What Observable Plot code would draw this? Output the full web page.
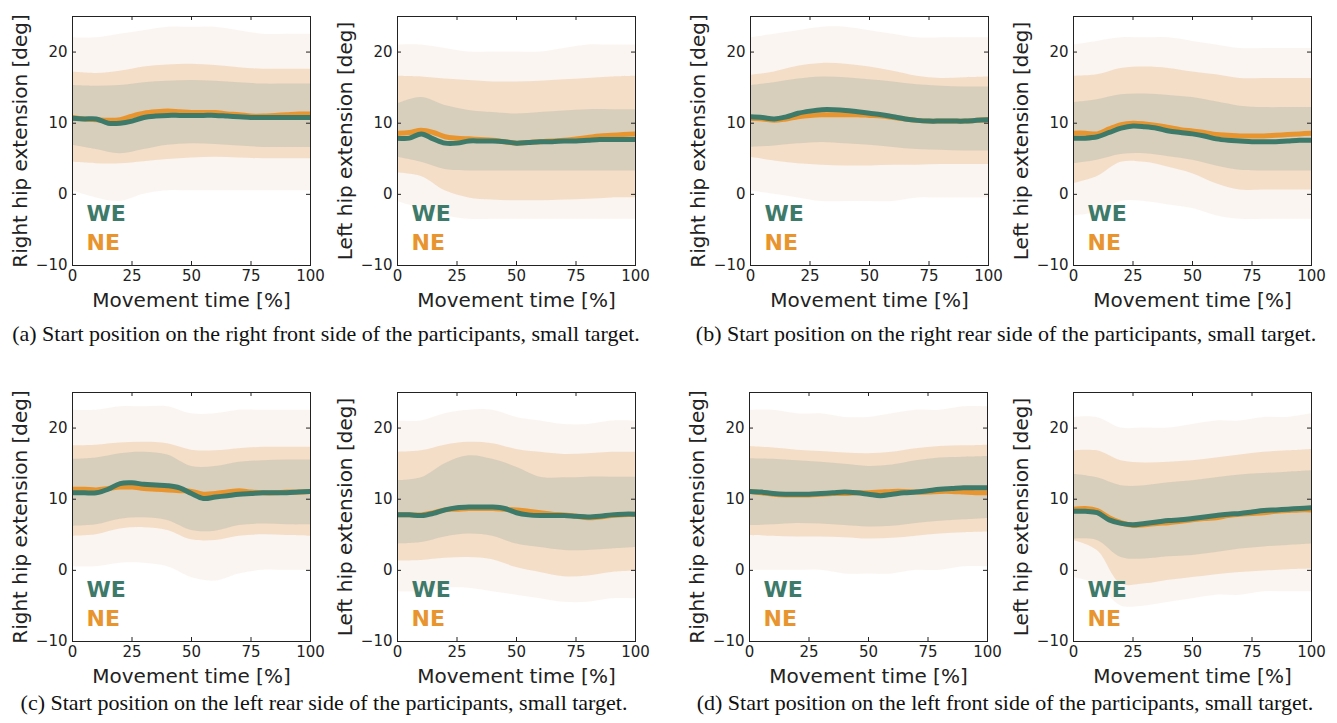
<!DOCTYPE html>
<html><head><meta charset="utf-8">
<script src="https://cdn.jsdelivr.net/npm/d3@7"></script>
<script src="https://cdn.jsdelivr.net/npm/@observablehq/plot@0.6"></script>
<style>
body{margin:0;background:#fff;width:1337px;height:723px;position:relative;overflow:hidden;font-family:"DejaVu Sans",sans-serif;}
.panel{position:absolute;}
.cap{position:absolute;font-family:"Liberation Serif","Times New Roman",serif;font-size:22px;color:#111;white-space:nowrap;transform:translate(-50%,-50%);}
</style></head><body>
<script>
// ---- shared axes ----
const timePct = [0,5,10,15,20,25,30,35,40,45,50,55,60,65,70,75,80,85,90,95,100];
const bandPct = [0,10,20,30,40,50,60,70,80,90,100];
const xTicks = [0,25,50,75,100];
const yTicks = [-10,0,10,20];
const xLabel = "Movement time [%]";
const yLabelRight = "Right hip extension [deg]";
const yLabelLeft = "Left hip extension [deg]";
const groupNames = ["WE","NE"];
const captions = [
  "(a) Start position on the right front side of the participants, small target.",
  "(b) Start position on the right rear side of the participants, small target.",
  "(c) Start position on the left rear side of the participants, small target.",
  "(d) Start position on the left front side of the participants, small target."
];

// ---- (a) right front ----
const aR_WE = [10.7,10.6,10.6,10.0,10.0,10.3,10.8,11.0,11.1,11.1,11.1,11.1,11.1,11.0,10.9,10.8,10.8,10.8,10.8,10.8,10.8];
const aR_NE = [10.8,10.6,10.5,10.4,10.5,11.0,11.4,11.6,11.7,11.6,11.5,11.5,11.5,11.3,11.2,11.0,11.0,11.1,11.2,11.3,11.3];
const aR_NEhi = [17.2,17.0,17.3,17.9,18.2,18.3,18.1,17.8,17.6,17.6,17.6];
const aR_NElo = [4.5,4.3,4.3,4.6,4.9,5.1,5.2,5.1,5.0,5.0,5.0];
const aR_WEhi = [15.3,15.2,15.3,15.7,15.9,16.0,15.9,15.7,15.5,15.5,15.5];
const aR_WElo = [6.9,6.3,5.7,6.3,6.9,7.1,7.0,6.8,6.6,6.6,6.6];
const aR_TRhi = [22,22,22.5,23,23.5,23.5,23.5,23,22.5,22.5,22.5];
const aR_TRlo = [0.5,-0.5,-1,0,0.5,0.5,0.5,0.5,0.5,0.5,0.5];

const aL_WE = [7.9,7.9,8.5,7.8,7.2,7.2,7.5,7.5,7.5,7.4,7.2,7.3,7.4,7.4,7.5,7.5,7.6,7.7,7.7,7.7,7.7];
const aL_NE = [8.6,8.7,9.0,8.7,8.1,7.9,7.8,7.7,7.6,7.4,7.2,7.3,7.4,7.5,7.6,7.8,8.0,8.2,8.3,8.4,8.5];
const aL_NEhi = [16.6,16.5,16.2,16.0,15.8,15.8,15.9,16.1,16.3,16.5,16.6];
const aL_NElo = [3.0,2.5,0.5,-0.5,-0.8,-0.9,-0.9,-0.8,-0.7,-0.5,-0.5];
const aL_WEhi = [12.7,13.6,12.5,11.8,11.5,11.3,11.5,11.7,11.9,11.9,11.9];
const aL_WElo = [5.2,4.5,3.5,3.3,3.3,3.3,3.3,3.3,3.3,3.3,3.3];
const aL_TRhi = [21,21,20.5,20,20,20,20,20.5,21,21,21];
const aL_TRlo = [-1,-2,-3,-3.5,-3.5,-3.5,-3.5,-3.5,-3.5,-3.5,-3.5];

// ---- (b) right rear ----
const bR_WE = [10.9,10.8,10.6,10.9,11.4,11.7,11.9,11.9,11.8,11.6,11.4,11.2,10.9,10.6,10.4,10.3,10.3,10.3,10.3,10.4,10.5];
const bR_NE = [10.7,10.6,10.4,10.6,10.9,11.1,11.2,11.2,11.2,11.2,11.1,11.0,10.8,10.6,10.4,10.3,10.3,10.3,10.3,10.4,10.5];
const bR_NEhi = [16.7,17.2,18.0,18.4,18.3,17.9,17.3,16.6,16.3,16.4,16.5];
const bR_NElo = [5.2,4.7,4.3,4.1,4.0,4.0,4.1,4.1,4.2,4.2,4.2];
const bR_WEhi = [15.3,15.7,16.2,16.5,16.4,16.1,15.8,15.4,15.2,15.1,15.1];
const bR_WElo = [6.6,6.8,7.1,7.3,7.1,6.9,6.6,6.3,6.2,6.1,6.1];
const bR_TRhi = [22,22.5,23,23.5,23.5,23,22.5,22,22,22,22];
const bR_TRlo = [0.5,0,-0.5,-1,-1,-1,-1,-0.5,-0.5,-0.5,-0.5];

const bL_WE = [7.9,7.9,8.1,8.7,9.3,9.6,9.5,9.3,8.9,8.7,8.5,8.2,7.8,7.6,7.5,7.4,7.4,7.4,7.5,7.6,7.6];
const bL_NE = [8.6,8.6,8.5,9.2,9.8,10.0,9.9,9.7,9.4,9.1,8.9,8.7,8.4,8.3,8.2,8.2,8.2,8.3,8.4,8.5,8.6];
const bL_NEhi = [16.6,16.8,17.7,17.9,17.7,17.2,16.8,16.3,16.3,16.3,16.3];
const bL_NElo = [1.5,2.5,4.5,4.5,3.8,2.9,1.5,0.6,0.6,0.6,0.6];
const bL_WEhi = [12.9,13.3,14.0,14.1,13.9,13.6,13.0,12.4,12.2,12.2,12.2];
const bL_WElo = [4.3,4.8,5.6,5.7,5.3,4.8,4.0,3.4,3.3,3.3,3.3];
const bL_TRhi = [21,21.5,22,22,22,21.5,21,20.5,20.5,20.5,20.5];
const bL_TRlo = [-3,-2.5,-1,-1,-1.5,-2,-3,-3.5,-3.5,-3.5,-3.5];

// ---- (c) left rear ----
const cR_WE = [10.9,10.9,10.9,11.4,12.2,12.3,12.1,12.0,11.9,11.6,10.8,10.1,10.3,10.5,10.7,10.8,10.9,10.9,10.9,11.0,11.1];
const cR_NE = [11.4,11.4,11.3,11.5,11.7,11.7,11.5,11.4,11.3,11.2,11.1,10.7,10.8,11.0,11.2,11.0,10.9,10.9,11.0,11.0,11.1];
const cR_NEhi = [17.5,17.6,17.9,18.0,17.8,16.9,16.8,17.1,17.3,17.3,17.3];
const cR_NElo = [4.8,5.0,5.8,6.0,5.6,4.3,4.2,4.8,5.0,4.9,4.8];
const cR_WEhi = [15.6,15.8,16.4,16.6,16.2,14.6,14.6,15.2,15.4,15.5,15.5];
const cR_WElo = [6.2,6.4,7.2,7.4,7.0,5.6,5.5,6.3,6.5,6.4,6.4];
const cR_TRhi = [22.5,22.5,23,23,23,22,22,22.5,22.5,22.5,22.5];
const cR_TRlo = [0.5,0.5,1,1,0.5,-1,-1.5,-0.5,0,0,0];

const cL_WE = [7.8,7.8,7.7,8.0,8.5,8.8,8.9,8.9,8.9,8.7,8.1,7.8,7.7,7.7,7.7,7.6,7.5,7.6,7.8,7.9,7.9];
const cL_NE = [7.8,7.8,7.8,8.1,8.5,8.6,8.7,8.7,8.7,8.6,8.5,8.3,8.1,7.9,7.8,7.6,7.4,7.5,7.7,7.8,7.9];
const cL_NEhi = [16.6,16.8,17.6,18.0,17.8,17.0,16.6,16.3,16.4,16.6,16.6];
const cL_NElo = [1.3,1.4,1.7,1.8,1.5,0.4,-0.3,-0.9,-0.8,-0.3,-0.1];
const cL_WEhi = [12.6,13.0,15.0,16.1,15.6,14.5,13.1,13.0,13.1,13.1,13.1];
const cL_WElo = [3.7,3.9,4.7,5.1,4.8,3.7,3.2,2.8,2.8,3.0,3.2];
const cL_TRhi = [21,21,22,22.5,22.5,21.5,21,20.5,20.5,21,21];
const cL_TRlo = [-3,-3,-2.5,-2.5,-3,-3.5,-4,-4.5,-4.5,-4,-4];

// ---- (d) left front ----
const dR_WE = [11.1,11.0,10.8,10.7,10.7,10.7,10.8,10.9,11.0,10.9,10.7,10.5,10.7,10.9,11.0,11.2,11.4,11.5,11.6,11.6,11.6];
const dR_NE = [11.1,10.9,10.7,10.6,10.6,10.6,10.7,10.8,10.8,10.9,10.9,11.0,11.1,11.1,11.0,11.0,11.1,11.1,11.0,10.9,10.9];
const dR_NEhi = [17.4,17.2,16.9,16.7,16.5,16.4,16.6,17.1,17.4,17.5,17.6];
const dR_NElo = [4.9,4.8,4.7,4.7,4.6,4.4,4.5,4.8,5.1,5.3,5.4];
const dR_WEhi = [15.7,15.6,15.4,15.2,14.9,14.6,14.8,15.4,15.8,15.9,16.0];
const dR_WElo = [6.3,6.4,6.6,6.5,6.3,6.1,6.2,6.6,6.9,7.1,7.3];
const dR_TRhi = [22.5,22.5,22,22,21.5,21.5,22,22.5,22.5,23,23];
const dR_TRlo = [0,0,0,0,-0.5,-0.5,-0.5,0,0,0.5,0.5];

const dL_WE = [8.3,8.3,8.1,7.1,6.6,6.4,6.6,6.8,7.0,7.1,7.3,7.5,7.7,7.9,8.0,8.2,8.4,8.5,8.6,8.7,8.8];
const dL_NE = [8.6,8.7,8.4,7.4,6.7,6.3,6.4,6.6,6.7,6.9,7.1,7.3,7.4,7.7,7.9,8.0,8.1,8.3,8.4,8.5,8.5];
const dL_NEhi = [16.8,16.8,15.4,15.1,15.2,15.4,15.8,16.2,16.6,16.8,17.0];
const dL_NElo = [4.2,2.8,-1.9,-1.9,-1.4,-1.0,-0.6,-0.3,-0.1,0.1,0.2];
const dL_WEhi = [13.5,13.0,11.9,11.9,12.3,12.6,13.0,13.4,13.6,13.8,14.0];
const dL_WElo = [4.4,4.2,1.8,1.6,1.9,2.1,2.5,3.0,3.3,3.5,3.7];
const dL_TRhi = [21.5,21.5,20,20,20,20.5,21,21,21.5,21.5,22];
const dL_TRlo = [-1,-2,-5,-5,-4.5,-4,-3.5,-3.5,-3,-3,-3];

// ---- styling ----
const WE_COLOR = "#3e7a69";
const NE_COLOR = "#e8952f";

const panels = [
  {left:0,   top:0,   ylab:yLabelRight, we:aR_WE, ne:aR_NE, neHi:aR_NEhi, neLo:aR_NElo, weHi:aR_WEhi, weLo:aR_WElo, trHi:aR_TRhi, trLo:aR_TRlo},
  {left:325, top:0,   ylab:yLabelLeft,  we:aL_WE, ne:aL_NE, neHi:aL_NEhi, neLo:aL_NElo, weHi:aL_WEhi, weLo:aL_WElo, trHi:aL_TRhi, trLo:aL_TRlo},
  {left:678, top:0,   ylab:yLabelRight, we:bR_WE, ne:bR_NE, neHi:bR_NEhi, neLo:bR_NElo, weHi:bR_WEhi, weLo:bR_WElo, trHi:bR_TRhi, trLo:bR_TRlo},
  {left:1001,top:0,   ylab:yLabelLeft,  we:bL_WE, ne:bL_NE, neHi:bL_NEhi, neLo:bL_NElo, weHi:bL_WEhi, weLo:bL_WElo, trHi:bL_TRhi, trLo:bL_TRlo},
  {left:0,   top:376, ylab:yLabelRight, we:cR_WE, ne:cR_NE, neHi:cR_NEhi, neLo:cR_NElo, weHi:cR_WEhi, weLo:cR_WElo, trHi:cR_TRhi, trLo:cR_TRlo},
  {left:325, top:376, ylab:yLabelLeft,  we:cL_WE, ne:cL_NE, neHi:cL_NEhi, neLo:cL_NElo, weHi:cL_WEhi, weLo:cL_WElo, trHi:cL_TRhi, trLo:cL_TRlo},
  {left:677, top:376, ylab:yLabelRight, we:dR_WE, ne:dR_NE, neHi:dR_NEhi, neLo:dR_NElo, weHi:dR_WEhi, weLo:dR_WElo, trHi:dR_TRhi, trLo:dR_TRlo},
  {left:1001,top:376, ylab:yLabelLeft,  we:dL_WE, ne:dL_NE, neHi:dL_NEhi, neLo:dL_NElo, weHi:dL_WEhi, weLo:dL_WElo, trHi:dL_TRhi, trLo:dL_TRlo}
];

const innerW = 238, innerH = 249;
const mL = 72, mR = 14, mT = 16, mB = 45;
const fmt = d => d < 0 ? "\u2212" + Math.abs(d) : String(d);
const curve = "catmull-rom";

function makePanel(p) {
  const means = timePct.map((t, i) => ({t, we: p.we[i], ne: p.ne[i]}));
  const bands = bandPct.map((t, i) => ({t, neHi: p.neHi[i], neLo: p.neLo[i], weHi: p.weHi[i], weLo: p.weLo[i], trHi: p.trHi[i], trLo: p.trLo[i]}));
  return Plot.plot({
    width: mL + innerW + mR,
    height: mT + innerH + mB,
    marginLeft: mL, marginRight: mR, marginTop: mT, marginBottom: mB,
    style: {fontFamily: "DejaVu Sans", background: "transparent", color: "#222", overflow: "visible"},
    x: {domain: [0, 100]},
    y: {domain: [-10, 25]},
    marks: [
      Plot.areaY(bands, {x: "t", y1: "trLo", y2: "trHi", fill: "#f0dfcd", fillOpacity: 0.3, curve, clip: true}),
      Plot.areaY(bands, {x: "t", y1: "neLo", y2: "neHi", fill: "#efc49a", fillOpacity: 0.48, curve, clip: true}),
      Plot.areaY(bands, {x: "t", y1: "weLo", y2: "weHi", fill: "#b3bcac", fillOpacity: 0.45, curve, clip: true}),
      Plot.line(means, {x: "t", y: "ne", stroke: NE_COLOR, strokeWidth: 5, curve, clip: true}),
      Plot.line(means, {x: "t", y: "we", stroke: WE_COLOR, strokeWidth: 5, curve, clip: true}),
      Plot.frame({stroke: "#222", strokeWidth: 1}),
      Plot.tickX(xTicks, {x: d => d, insetTop: innerH - 4, stroke: "#222"}),
      Plot.tickX(xTicks, {x: d => d, insetBottom: innerH - 4, stroke: "#222"}),
      Plot.tickY(yTicks, {y: d => d, insetRight: innerW - 4, stroke: "#222"}),
      Plot.tickY(yTicks, {y: d => d, insetLeft: innerW - 4, stroke: "#222"}),
      Plot.axisX({ticks: xTicks, tickSize: 0, tickPadding: 5, fontSize: 15, label: null, tickFormat: fmt}),
      Plot.axisY({ticks: yTicks, tickSize: 0, tickPadding: 5, fontSize: 15, label: null, tickFormat: fmt}),
      Plot.text([p.ylab], {text: d => d, frameAnchor: "left", rotate: -90, dx: -60, textAnchor: "middle", lineAnchor: "top", fontSize: 20, fill: "#222"}),
      Plot.text([xLabel], {text: d => d, frameAnchor: "bottom", dy: 41, textAnchor: "middle", lineAnchor: "bottom", fontSize: 20, fill: "#222"}),
      Plot.text([groupNames[0]], {text: d => d, frameAnchor: "bottom-left", dx: 14, dy: -52, textAnchor: "start", lineAnchor: "middle", fontSize: 22, fontWeight: "bold", fill: WE_COLOR}),
      Plot.text([groupNames[1]], {text: d => d, frameAnchor: "bottom-left", dx: 14, dy: -23, textAnchor: "start", lineAnchor: "middle", fontSize: 22, fontWeight: "bold", fill: NE_COLOR})
    ]
  });
}

for (const p of panels) {
  const div = document.createElement("div");
  div.className = "panel";
  div.style.left = p.left + "px";
  div.style.top = p.top + "px";
  div.appendChild(makePanel(p));
  document.body.appendChild(div);
}

const capPos = [[326, 334], [1006, 334], [324, 703], [1005, 703]];
captions.forEach((c, i) => {
  const d = document.createElement("div");
  d.className = "cap";
  d.style.left = capPos[i][0] + "px";
  d.style.top = capPos[i][1] + "px";
  d.textContent = c;
  document.body.appendChild(d);
});
</script>
</body></html>
